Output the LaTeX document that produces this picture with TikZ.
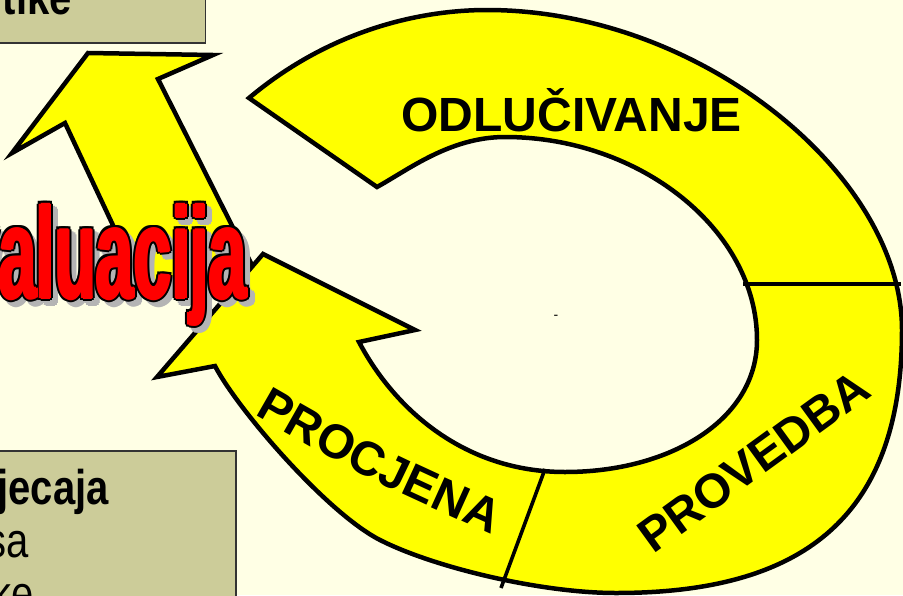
\documentclass[tikz,border=0pt]{standalone}
\usepackage{fontspec}
\setmainfont{Liberation Sans}
\usepackage{graphicx}
\usetikzlibrary{decorations.text}
\definecolor{bgc}{HTML}{FFFFE5}
\definecolor{tanc}{HTML}{CCCC99}
\definecolor{ylw}{HTML}{FFFF00}
\definecolor{shad}{HTML}{B4B4B4}
\definecolor{evred}{HTML}{FF0000}
\newcommand\labfont{\fontsize{48}{48}\selectfont\bfseries}
\newcommand\evfont{\fontsize{130}{130}\selectfont\bfseries}
\newcommand\evtext{\scalebox{0.52}[1]{\evfont Evaluacija}}
\newcommand\boxtext[1]{\scalebox{1}[1.22]{#1}}
\begin{document}
\begin{tikzpicture}[x=1pt,y=-1pt,
  ringshape/.style={draw=black, line width=4.5pt, fill=ylw, line join=miter},
  divider/.style={draw=black, line width=3.6pt},
  tanbox/.style={draw=black!80, line width=1.2pt, fill=tanc},
  lab/.style={font=\labfont, inner sep=0pt},
  boxtxt/.style={inner sep=0pt, anchor=base east, font=\fontsize{40}{40}\selectfont},
  evstyle/.style={inner sep=0pt, anchor=base east},
]
\useasboundingbox (0,0) rectangle (903,595);
\fill[bgc] (0,0) rectangle (903,595);

% tan boxes
\draw[tanbox] (-5,-5) rectangle (205.5,43);
\node[boxtxt] (tike) at (72,14) {\boxtext{\bfseries tike}};
\draw[tanbox] (-5,451) rectangle (236,600);
\node[boxtxt] (jecaja) at (109,504) {\boxtext{\bfseries jecaja}};
\node[boxtxt] (sa) at (29,557) {\boxtext{sa}};
\node[boxtxt] (ke) at (34,610) {\boxtext{ke}};

% left upward arrow
\draw[ringshape] (141,285) -- (65,123) -- (12,153) -- (88,53) -- (213,55) -- (158,79) -- (262,285) -- cycle;

% ring with arrowhead
\draw[ringshape] (249,98)
  .. controls (330,30) and (420,10) .. (487,10)
  .. controls (700,10) and (902,175) .. (902,330)
  .. controls (902,520) and (800,593) .. (616,593)
  .. controls (540,593) and (433,567) .. (380,540)
  .. controls (327,513) and (238,410) .. (215,366)
  -- (157,377) -- (263,254) -- (415,330) -- (359,342)
  .. controls (395,410) and (465,472) .. (565,472)
  .. controls (670,472) and (757,420) .. (757,340)
  .. controls (757,230) and (640,137) .. (505,137)
  .. controls (450,137) and (408,170) .. (377,187)
  -- cycle;

% dividers
\draw[divider] (743,284) -- (901,284);
\draw[divider] (545,469) -- (501,588);

% labels
\node[lab, anchor=base] (odl) at (571.7,131.5) {ODLUČIVANJE};
\node[lab, rotate=36] (prov) at (753.5,461.5) {PROVEDBA};
\path[decorate, decoration={text along path, text={|\labfont|PROCJENA}, text align=center}]
  (241,407) .. controls (361,476) .. (506,541);
\node[inner sep=0pt, font=\fontsize{14}{14}\selectfont] (dash) at (556,317) {-};

% Evaluacija with shadow and outline
\foreach \dx/\dy [count=\k] in {3/3,7/7,3/7,7/3,5/5,5/2,2/5,8/5,5/8} {
  \node[evstyle, text=shad] (evs\k) at (247+\dx,298+\dy) {\evtext};
}
\foreach \dx/\dy [count=\k] in {3.5/0,-3.5/0,0/3,0/-3,2.5/2.2,2.5/-2.2,-2.5/2.2,-2.5/-2.2} {
  \node[evstyle, text=black] (evo\k) at (247+\dx,298+\dy) {\evtext};
}
\foreach \dx/\dy [count=\k] in {1.5/0,-1.5/0,0/1,0/-1,0/0} {
  \node[evstyle, text=evred] (ev\k) at (247+\dx,298+\dy) {\evtext};
}
\end{tikzpicture}
\end{document}
